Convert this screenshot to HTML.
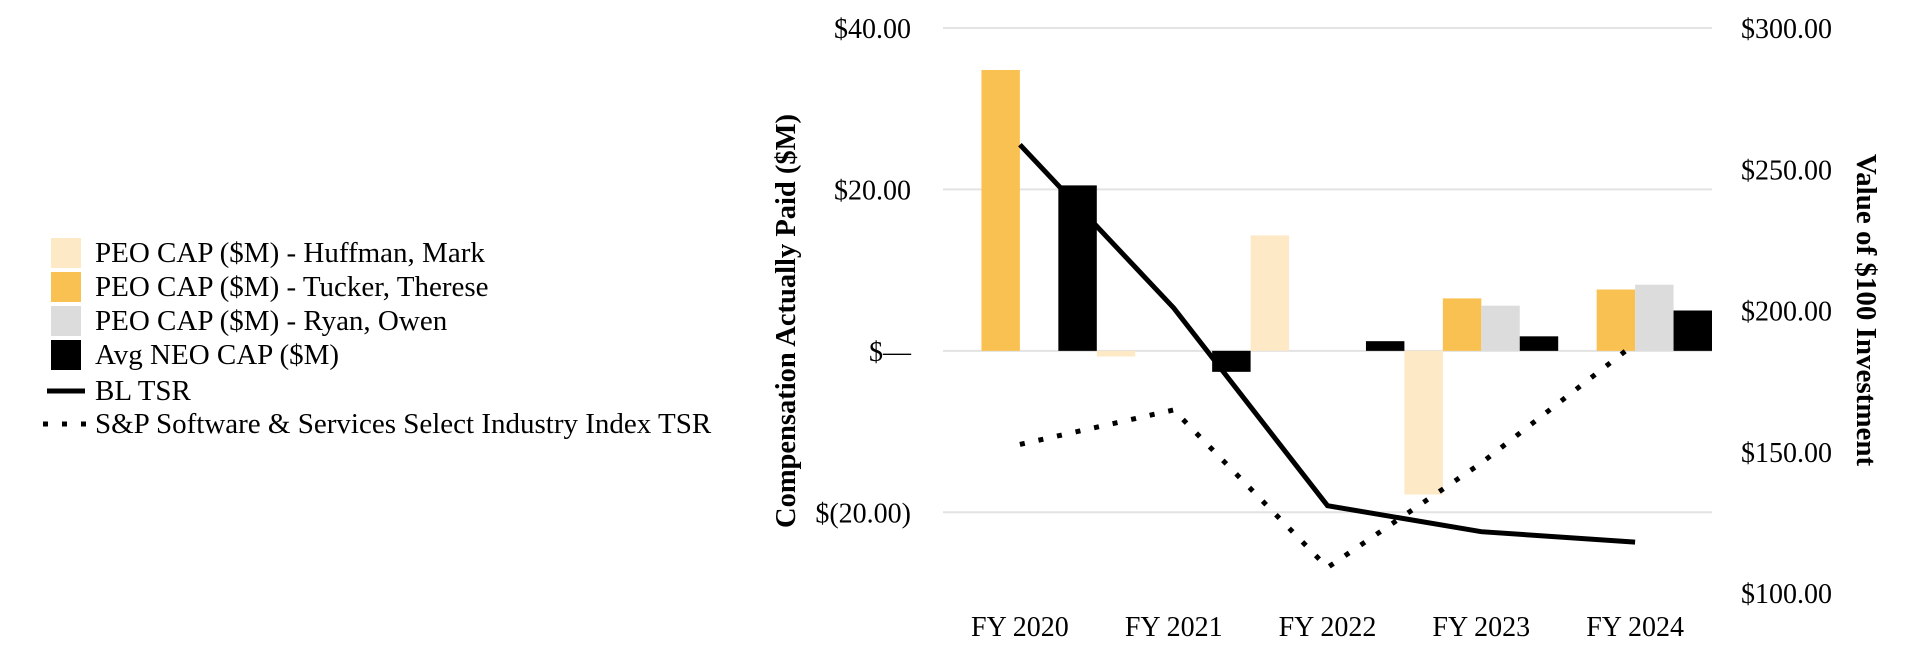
<!DOCTYPE html>
<html><head><meta charset="utf-8"><style>
html,body{margin:0;padding:0;background:#fff;}
svg{display:block;font-family:"Liberation Serif",serif;}
</style></head><body>
<svg id="chart" width="1920" height="672" viewBox="0 0 1920 672">
<g id="grid"></g><g id="bars"></g><g id="lines"></g><g id="axes"></g><g id="legend"></g>
</svg>
<script>
const categories = ["FY 2020","FY 2021","FY 2022","FY 2023","FY 2024"];
const huffman = [0, -0.7, 14.3, -17.8, 0];
const tucker = [34.8, 0, 0, 6.5, 7.6];
const ryan = [0, 0, 0, 5.6, 8.2];
const avgNeo = [20.5, -2.6, 1.2, 1.8, 5.0];
const blTsr = [258.7, 200.9, 130.9, 121.7, 118];
const spTsr = [152.6, 164.8, 109, 146, 188.3];
const leftTicks = [40, 20, 0, -20];
const leftTickLabels = ["$40.00","$20.00","$\u2014","$(20.00)"];
const rightTicks = [300, 250, 200, 150, 100];
const rightTickLabels = ["$300.00","$250.00","$200.00","$150.00","$100.00"];

const NS="http://www.w3.org/2000/svg";
const X0=943, X1=1712, YT=28, YB=593;
const yL=v=>YT+(40-v)/70*(YB-YT);
const yR=v=>YT+(300-v)/200*(YB-YT);
const cw=(X1-X0)/categories.length;
const xC=i=>X0+cw*(i+0.5);
function mk(tag,attrs,parent,text){const e=document.createElementNS(NS,tag);for(const k in attrs)e.setAttribute(k,attrs[k]);if(text!==undefined)e.textContent=text;parent.appendChild(e);return e;}
const grid=document.getElementById('grid'),bars=document.getElementById('bars'),lines=document.getElementById('lines'),axes=document.getElementById('axes'),legend=document.getElementById('legend');

leftTicks.forEach((t,i)=>{
  const l=mk('line',{x1:X0,x2:X1,y1:yL(t),y2:yL(t),stroke:'#e3e3e3','stroke-width':2},grid);
  
  
  const tx=mk('text',{x:911,y:yL(t)+10,'text-anchor':'end','font-size':28},axes,leftTickLabels[i]);
  
  
});
rightTicks.forEach((t,i)=>{
  const tx=mk('text',{x:1741,y:yR(t)+10,'font-size':28},axes,rightTickLabels[i]);
  
  
});
categories.forEach((c,i)=>{
  const tx=mk('text',{x:xC(i),y:636,'text-anchor':'middle','font-size':28},axes,c);
  
  
});
const series=[[huffman,'#fde9c6','bar-huffman'],[tucker,'#f9c152','bar-tucker'],[ryan,'#dcdcdc','bar-ryan'],[avgNeo,'#000','bar-avg-neo']];
const bw=cw/4;
series.forEach(([vals,col,name],s)=>{
  vals.forEach((v,i)=>{
    if(v===0)return;
    const y1=yL(Math.max(v,0)),y2=yL(Math.min(v,0));
    const r=mk('rect',{x:X0+cw*i+bw*s,y:y1,width:bw,height:y2-y1,fill:col},bars);
    
    
  });
});
const p1=mk('polyline',{points:blTsr.map((v,i)=>xC(i)+','+yR(v)).join(' '),fill:'none',stroke:'#000','stroke-width':5},lines);


const p2=mk('polyline',{points:spTsr.map((v,i)=>xC(i)+','+yR(v)).join(' '),fill:'none',stroke:'#000','stroke-width':5,'stroke-dasharray':'5 14'},lines);



const t1=mk('text',{x:0,y:0,'font-size':28.5,'font-weight':'bold','text-anchor':'middle',transform:'translate(795,321) rotate(-90)'},axes,'Compensation Actually Paid ($M)');


const t2=mk('text',{x:0,y:0,'font-size':29,'font-weight':'bold','text-anchor':'middle',transform:'translate(1857,310) rotate(90)'},axes,'Value of $100 Investment');



const legItems=[['box','#fde9c6','PEO CAP ($M) - Huffman, Mark'],['box','#f9c152','PEO CAP ($M) - Tucker, Therese'],['box','#dcdcdc','PEO CAP ($M) - Ryan, Owen'],['box','#000','Avg NEO CAP ($M)'],['line',null,'BL TSR'],['dot',null,'S&P Software & Services Select Industry Index TSR']];
const legY=[253,287,321,355,391,424];
legItems.forEach(([k,col,lab],i)=>{
  const y=legY[i];
  const g=mk('g',{},legend);
  
  
  if(k==='box')mk('rect',{x:51,y:y-15,width:30,height:30,fill:col},g);
  else if(k==='line')mk('line',{x1:47,x2:85,y1:y,y2:y,stroke:'#000','stroke-width':5},g);
  else mk('line',{x1:43,x2:90,y1:y,y2:y,stroke:'#000','stroke-width':5,'stroke-dasharray':'5 14'},g);
  mk('text',{x:95,y:y+9,'font-size':29},g,lab);
});
</script>
</body></html>
